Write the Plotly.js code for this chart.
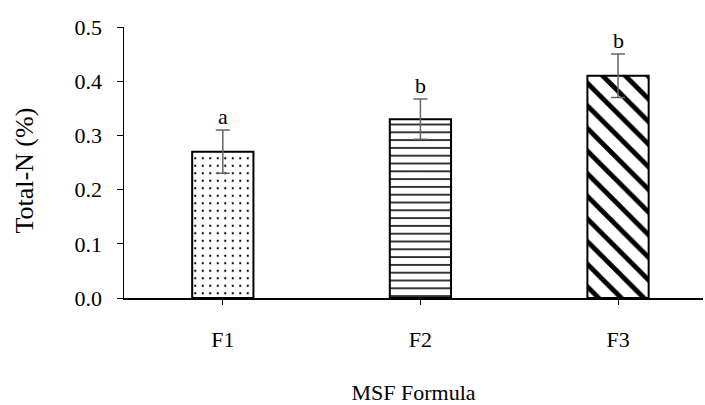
<!DOCTYPE html>
<html>
<head>
<meta charset="utf-8">
<script src="https://cdn.plot.ly/plotly-3.0.1.min.js"></script>
<style>html,body{margin:0;padding:0;background:#fff;}#chart{width:705px;height:405px;}</style>
</head>
<body>
<div id="chart"></div>
<script>
const categories = ["F1", "F2", "F3"];
const totalN = [0.27, 0.33, 0.41];
const errors = [0.04, 0.037, 0.04];
const letters = ["a", "b", "b"];
const patterns = [".", "-", "\\"];

const FONT = "Liberation Serif, Times New Roman, serif";

const traces = categories.map((c, i) => ({
  type: "bar",
  x: [c],
  y: [totalN[i]],
  width: 0.31,
  marker: {
    color: "#ffffff",
    line: {color: "#000000", width: 2},
    pattern: {
      shape: patterns[i],
      fgcolor: "#000000",
      bgcolor: "#ffffff",
      size: i === 0 ? 7.5 : (i === 1 ? 7.8 : 16),
      solidity: i === 0 ? 0.07 : (i === 1 ? 0.2 : 0.3)
    }
  },
  error_y: {type: "data", array: [errors[i]], visible: true, color: "#666666", thickness: 1.5, width: 7},
  showlegend: false,
  hoverinfo: "none"
}));

const annotations = categories.map((c, i) => ({
  x: c, y: totalN[i] + errors[i], xref: "x", yref: "y",
  text: letters[i], showarrow: false, yanchor: "bottom", yshift: -1,
  font: {family: FONT, size: 22, color: "#000"}
}));

annotations.push({
  xref: "paper", yref: "paper", x: -0.171, y: 0.47,
  xanchor: "center", yanchor: "middle", textangle: -90, showarrow: false,
  text: "Total-N (%)",
  font: {family: FONT, size: 26, color: "#000"}
});

const layout = {
  width: 705, height: 405,
  margin: {l: 124, r: 2, t: 27, b: 107},
  paper_bgcolor: "#fff", plot_bgcolor: "#fff",
  font: {family: FONT, size: 22, color: "#000"},
  showlegend: false,
  xaxis: {
    type: "category",
    range: [-0.5, 2.43],
    showline: true, linecolor: "#000", linewidth: 1.5,
    ticks: "outside", ticklen: 5, tickcolor: "#000", tickwidth: 1,
    ticklabelstandoff: 16,
    showgrid: false, zeroline: false,
    tickfont: {family: FONT, size: 22, color: "#000"},
    title: {text: "MSF Formula", font: {family: FONT, size: 22, color: "#000"}, standoff: 42}
  },
  yaxis: {
    range: [0, 0.5],
    tickvals: [0, 0.1, 0.2, 0.3, 0.4, 0.5],
    ticktext: ["0.0", "0.1", "0.2", "0.3", "0.4", "0.5"],
    showline: true, linecolor: "#000", linewidth: 1.5,
    ticks: "outside", ticklen: 6, tickcolor: "#000", tickwidth: 1,
    ticklabelstandoff: 10,
    showgrid: false, zeroline: false,
    tickfont: {family: FONT, size: 22, color: "#000"}
  },
  annotations: annotations
};

Plotly.newPlot("chart", traces, layout, {displayModeBar: false, staticPlot: true});
</script>
</body>
</html>
